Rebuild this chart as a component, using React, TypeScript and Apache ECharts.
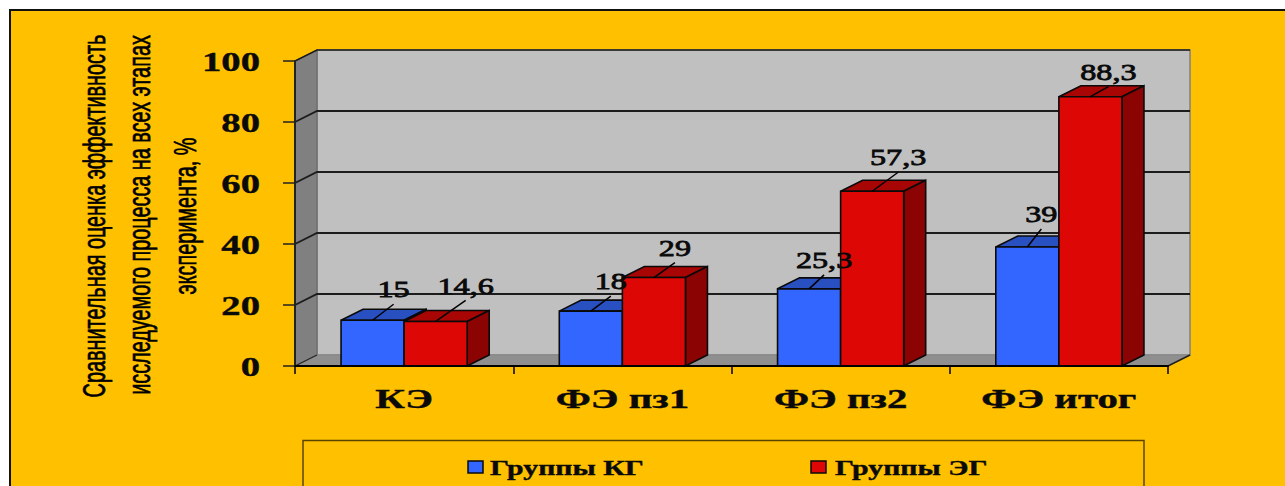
import React, { useEffect, useRef } from "react";
import * as echarts from "echarts";

const categories = ["КЭ", "ФЭ пз1", "ФЭ пз2", "ФЭ итог"];
const seriesKG = [15, 18, 25.3, 39];
const seriesEG = [14.6, 29, 57.3, 88.3];
const nameKG = "Группы КГ";
const nameEG = "Группы ЭГ";
const yTicks = [0, 20, 40, 60, 80, 100];
const titleLines = [
  "Сравнительная оценка эффективность",
  "исследуемого процесса на всех этапах",
  "эксперимента, %",
];
// leader line ends relative to the top centre of each bar's front face
const leadersKG = [[21, -16], [20, -15], [15, -14], [14, -18]];
const leadersEG = [[30, -21], [21, -15], [26, -19], [18, -10]];

const GRID = { left: 295, top: 61, width: 873, height: 305 };
const DX = 22;
const DY = -11;
const BAR_RATIO = 0.289;
const SERIF = "'Liberation Serif', serif";
const DARK = "#0a0a0a";

const barColors = {
  kg: { front: "#3366FF", top: "#2850C0", side: "#1E3C90" },
  eg: { front: "#DD0806", top: "#A80505", side: "#8B0303" },
};

function stretched(text: string, x: number, y: number, font: string, scaleX: number, align = "center", stroke = 0.4) {
  return {
    type: "text",
    x,
    y,
    scaleX,
    style: { text, font, fill: DARK, stroke: DARK, lineWidth: stroke, textAlign: align, textVerticalAlign: "middle" },
  };
}

function barSeries(name: string, values: number[], offsetSign: number, c: any) {
  return {
    type: "custom",
    name,
    z: 3,
    clip: false,
    encode: { x: 0, y: 1 },
    data: values.map((v, i) => [i, v]),
    renderItem: (_p: any, api: any) => {
      const [cx, ty] = api.coord([api.value(0), api.value(1)]);
      const [, by] = api.coord([api.value(0), 0]);
      const w = api.size([1, 0])[0] * BAR_RATIO;
      const x0 = offsetSign < 0 ? cx - w : cx;
      const x1 = x0 + w;
      const line = { stroke: "#0a0a0a", lineWidth: 1.6 };
      return {
        type: "group",
        children: [
          { type: "polygon", shape: { points: [[x0, ty], [x0 + DX, ty + DY], [x1 + DX, ty + DY], [x1, ty]] }, style: { fill: c.top, ...line } },
          { type: "polygon", shape: { points: [[x1, ty], [x1 + DX, ty + DY], [x1 + DX, by + DY], [x1, by]] }, style: { fill: c.side, ...line } },
          { type: "rect", shape: { x: x0, y: ty, width: w, height: by - ty }, style: { fill: c.front, ...line } },
        ],
      };
    },
  };
}

function labelSeries(values: number[], leaders: number[][], offsetSign: number) {
  return {
    type: "custom",
    z: 6,
    clip: false,
    silent: true,
    encode: { x: 0, y: 1 },
    data: values.map((v, i) => [i, v]),
    renderItem: (_p: any, api: any) => {
      const i = api.value(0);
      const v = api.value(1);
      const [cx, ty] = api.coord([i, v]);
      const w = api.size([1, 0])[0] * BAR_RATIO;
      const x = cx + (offsetSign * w) / 2;
      const [dx, dy] = leaders[i];
      return {
        type: "group",
        children: [
          { type: "line", shape: { x1: x, y1: ty, x2: x + dx, y2: ty + dy }, style: { stroke: "#000", lineWidth: 1.5 } },
          stretched(String(v).replace(".", ","), x + dx, ty + dy - 15, `24px ${SERIF}`, 1.34, "center", 0.8),
        ],
      };
    },
  };
}

const xLabelSeries = {
  type: "custom",
  z: 5,
  clip: false,
  silent: true,
  encode: { x: 0 },
  data: categories.map((_, i) => [i]),
  renderItem: (p: any, api: any) => {
    const i = api.value(0);
    const c = p.coordSys;
    return stretched(categories[i], api.coord([i, 0])[0], c.y + c.height + 33, `bold 28px ${SERIF}`, 1.46);
  },
};

const yLabelSeries = {
  type: "custom",
  z: 5,
  clip: false,
  silent: true,
  encode: { y: 0 },
  data: yTicks.map((t) => [t]),
  renderItem: (p: any, api: any) => {
    const t = api.value(0);
    return stretched(String(t), p.coordSys.x - 35, api.coord([0, t])[1], `bold 28px ${SERIF}`, 1.38, "right");
  },
};

const wallsSeries = {
  type: "custom",
  z: 1,
  clip: false,
  silent: true,
  encode: { y: 0 },
  data: yTicks.map((t) => [t]),
  renderItem: (p: any, api: any) => {
    const t = api.value(0);
    const c = p.coordSys;
    const yBottom = c.y + c.height;
    const xL = c.x;
    const xR = c.x + c.width;
    const y = api.coord([0, t])[1];
    const children: any[] = [];
    if (t === 0) {
      children.push(
        { type: "polygon", shape: { points: [[xL + DX, c.y + DY], [xR + DX, c.y + DY], [xR + DX, yBottom + DY], [xL + DX, yBottom + DY]] }, style: { fill: "#C0C0C0", stroke: "#808080", lineWidth: 1.5 } },
        { type: "polygon", shape: { points: [[xL, c.y], [xL + DX, c.y + DY], [xL + DX, yBottom + DY], [xL, yBottom]] }, style: { fill: "#808080", stroke: "#666", lineWidth: 1 } },
        { type: "polygon", shape: { points: [[xL, yBottom], [xL + DX, yBottom + DY], [xR + DX, yBottom + DY], [xR, yBottom]] }, style: { fill: "#8F8F8F", stroke: "#888", lineWidth: 1 } },
        { type: "line", shape: { x1: xR, y1: yBottom, x2: xR + DX, y2: yBottom + DY }, style: { stroke: "#222", lineWidth: 1.5 } },
        { type: "line", shape: { x1: xL, y1: yBottom, x2: xL + DX, y2: yBottom + DY }, style: { stroke: "#222", lineWidth: 1.2 } },
      );
    } else {
      children.push({
        type: "polyline",
        shape: { points: [[xL, y], [xL + DX, y + DY], [xR + DX, y + DY]] },
        style: { fill: "none", stroke: "#1c1c1c", lineWidth: t === 100 ? 1.5 : 1.8 },
      });
    }
    return { type: "group", children };
  },
};

export default function App() {
  const ref = useRef<HTMLDivElement>(null);
  useEffect(() => {
    document.body.style.margin = "0";
    const chart = echarts.init(ref.current!, null, { renderer: "svg" });
    const legendBox = (x: number, fill: string) => ({
      type: "rect",
      z: 5,
      shape: { x, y: 461, width: 15, height: 12 },
      style: { fill, stroke: "#0a0a0a", lineWidth: 1.5 },
    });
    const legendText = (t: string, x: number) => ({
      ...stretched(t, x, 468, `bold 21px ${SERIF}`, 1.42, "left"),
      z: 5,
    });
    chart.setOption({
      animation: false,
      backgroundColor: "#ffffff",
      grid: { ...GRID, containLabel: false },
      graphic: [
        { type: "rect", z: -10, shape: { x: 10, y: 10, width: 1320, height: 520 }, style: { fill: "#FFC000", stroke: "#111", lineWidth: 2 } },
        { type: "rect", z: -9, shape: { x: 303, y: 440.5, width: 841, height: 80 }, style: { fill: "none", stroke: "#5a4500", lineWidth: 1.5 } },
        legendBox(468, barColors.kg.front),
        legendText(nameKG, 490),
        legendBox(811, barColors.eg.front),
        legendText(nameEG, 835),
        ...titleLines.map((t, i) => ({
          type: "text",
          z: 5,
          x: [94, 139, 185][i],
          y: [216, 215, 216][i],
          rotation: Math.PI / 2,
          scaleX: 0.62,
          style: {
            text: t,
            font: "32px 'Liberation Sans', sans-serif",
            fill: "#000",
            stroke: "#000",
            lineWidth: 0.7,
            textAlign: "center",
            textVerticalAlign: "middle",
          },
        })),
      ],
      xAxis: {
        type: "category",
        data: categories,
        axisLine: { lineStyle: { color: "#000", width: 2 } },
        axisTick: { show: true, length: 8, lineStyle: { color: "#000", width: 1.5 } },
        axisLabel: { show: false },
        z: 4,
      },
      yAxis: {
        type: "value",
        min: 0,
        max: 100,
        interval: 20,
        splitLine: { show: false },
        axisLine: { show: true, lineStyle: { color: "#222", width: 2 } },
        axisTick: { show: true, length: 12, lineStyle: { color: "#222", width: 1.5 } },
        axisLabel: { show: false },
        z: 4,
      },
      series: [
        wallsSeries,
        barSeries(nameKG, seriesKG, -1, barColors.kg),
        barSeries(nameEG, seriesEG, 1, barColors.eg),
        labelSeries(seriesKG, leadersKG, -1),
        labelSeries(seriesEG, leadersEG, 1),
        xLabelSeries,
        yLabelSeries,
      ],
    });
    return () => chart.dispose();
  }, []);
  return <div ref={ref} style={{ position: "fixed", left: 0, top: 0, width: 1285, height: 486 }} />;
}
